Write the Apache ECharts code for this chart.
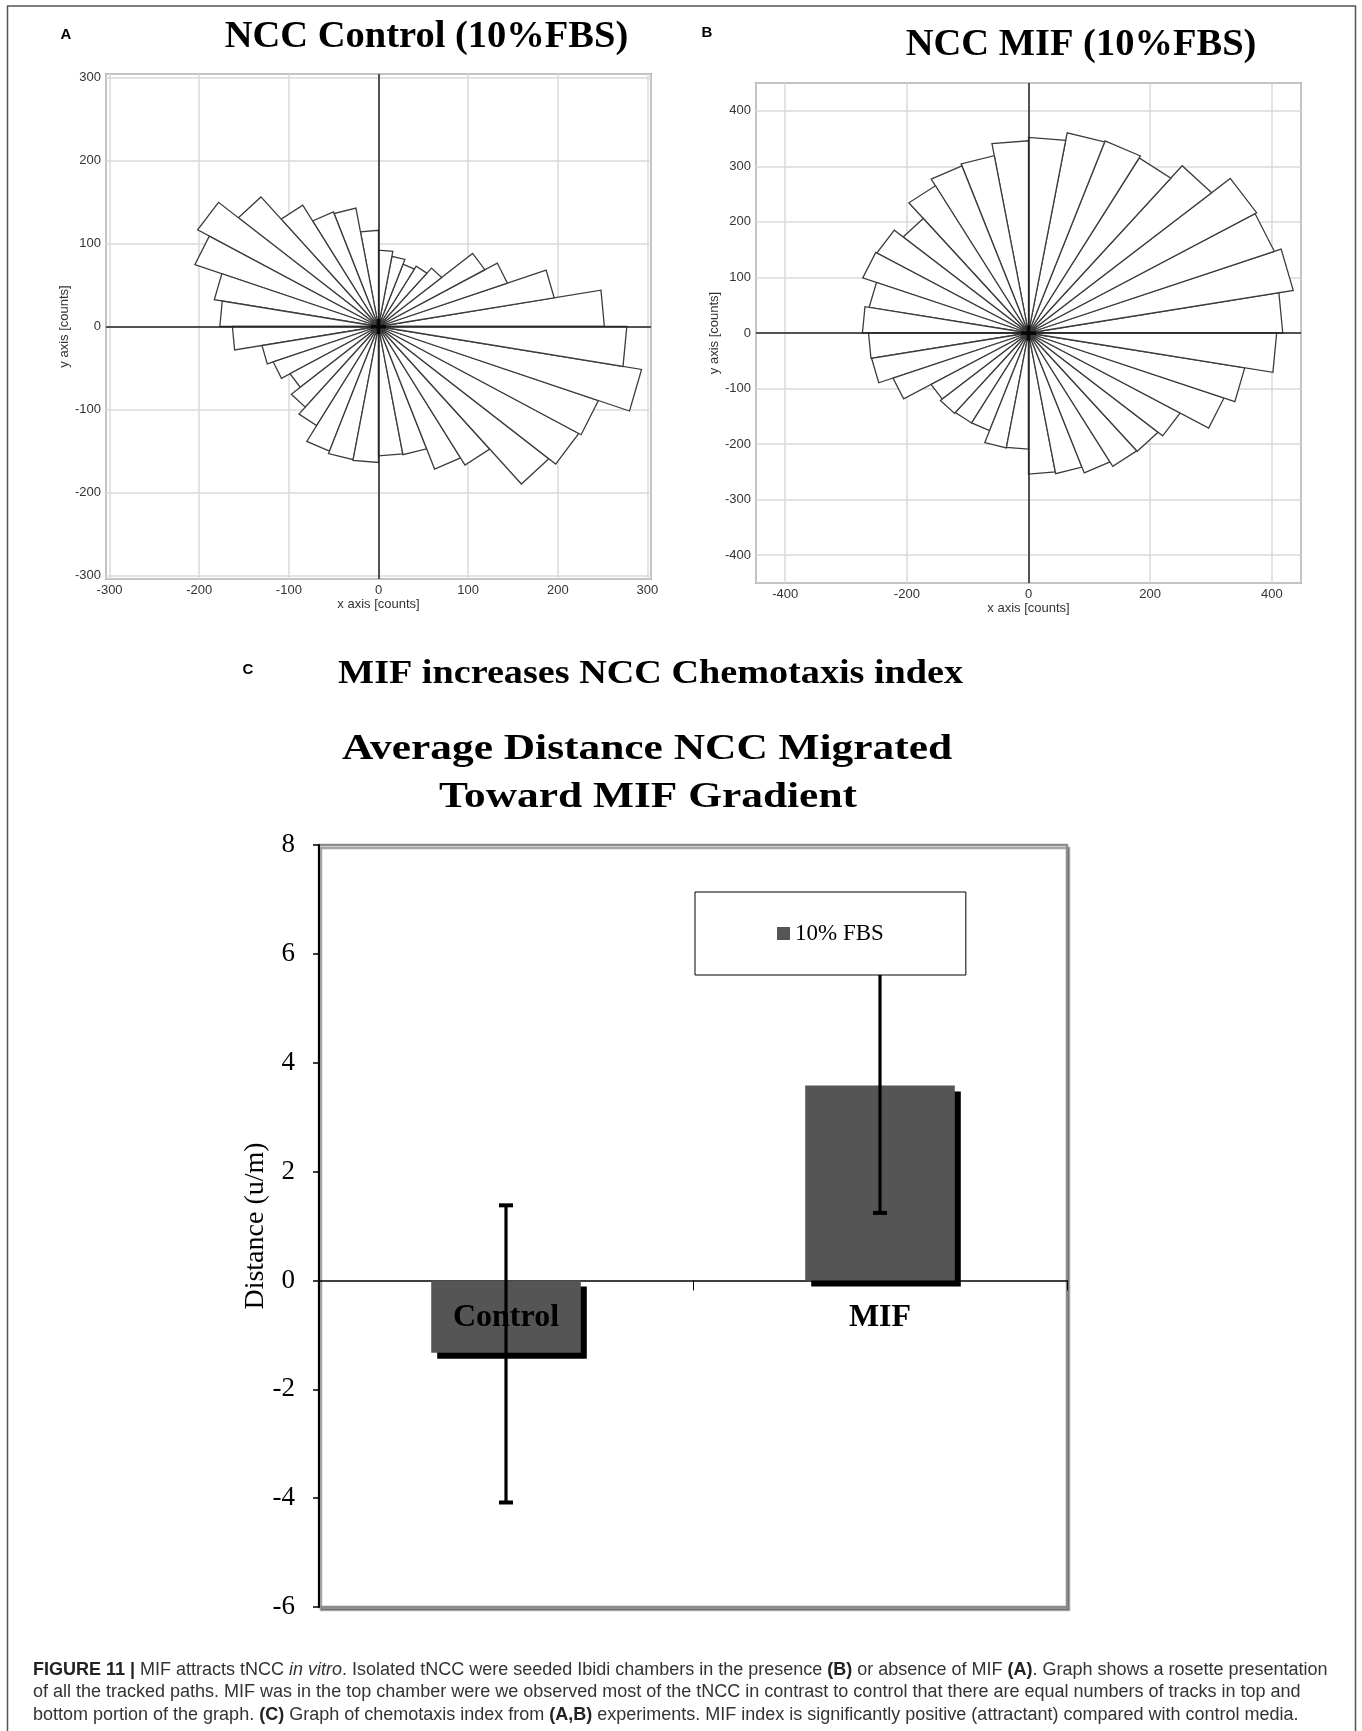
<!DOCTYPE html>
<html><head><meta charset="utf-8">
<script src="https://cdn.jsdelivr.net/npm/echarts@6/dist/echarts.min.js"></script>
<style>html,body{margin:0;padding:0;background:#fff}#c{width:1362px;height:1731px}</style>
</head><body><div id="c"></div>
<script>
// ---------- data ----------
const binDeg = 10; // each rose sector spans 10 degrees, sector i starts at i*10 deg (counter-clockwise from +x)
const roseControl = [252, 199, 153, 137, 92, 84, 80, 86, 92, 116, 145, 147, 169, 204, 233, 218, 186, 177,
                     163, 132, 125, 114, 127, 138, 160, 163, 164, 156, 157, 183, 193, 248, 258, 261, 298, 277];
const roseMIF = [418, 442, 430, 433, 393, 364, 368, 366, 352, 346, 324, 320, 306, 269, 288, 290, 266, 273,
                 263, 262, 237, 185, 189, 187, 187, 210, 209, 254, 257, 268, 277, 278, 288, 342, 361, 408];
const ticksA = [-300, -200, -100, 0, 100, 200, 300];
const ticksBX = [-400, -200, 0, 200, 400];
const ticksBY = [-400, -300, -200, -100, 0, 100, 200, 300, 400];
const originPoint = [[0, 0]];

const barCategories = ['Control', 'MIF'];
const barSeriesName = '10% FBS';
const barMeans = [-1.33, 3.58];
const errLow = [-4.08, 1.24];
const errHigh = [1.38, 5.92];

// ---------- helpers ----------
const SANS = 'Liberation Sans';
const SERIF = 'Liberation Serif';

function roseRender(params, api) {
  const i = api.value(0), r = api.value(1);
  const a0 = i * binDeg * Math.PI / 180, a1 = (i + 1) * binDeg * Math.PI / 180;
  const p0 = api.coord([0, 0]);
  const p1 = api.coord([r * Math.cos(a0), r * Math.sin(a0)]);
  const p2 = api.coord([r * Math.cos(a1), r * Math.sin(a1)]);
  return {
    type: 'polygon',
    shape: { points: [p0, p1, p2] },
    style: { fill: '#ffffff', stroke: '#3c3c3c', lineWidth: 1.3 }
  };
}

function errRender(params, api) {
  const x = api.value(0), lo = api.value(1), hi = api.value(2);
  const pLo = api.coord([x, lo]), pHi = api.coord([x, hi]);
  const cw = 7;
  const st = { stroke: '#000', lineWidth: 3.2 };
  return {
    type: 'group',
    children: [
      { type: 'line', shape: { x1: pLo[0], y1: pLo[1], x2: pHi[0], y2: pHi[1] }, style: st },
      { type: 'line', shape: { x1: pLo[0] - cw, y1: pLo[1], x2: pLo[0] + cw, y2: pLo[1] }, style: { stroke: '#000', lineWidth: 4 } },
      { type: 'line', shape: { x1: pHi[0] - cw, y1: pHi[1], x2: pHi[0] + cw, y2: pHi[1] }, style: { stroke: '#000', lineWidth: 4 } }
    ]
  };
}

// category names sit just under the zero line, as in the original chart
function catLabelRender(params, api) {
  const i = api.value(0);
  const p = api.coord([i, api.value(1)]);
  return {
    type: 'text', x: p[0], y: p[1] + 37,
    style: { text: barCategories[i], fontFamily: SERIF, fontWeight: 'bold', fontSize: 32, fill: '#000', align: 'center', verticalAlign: 'middle' }
  };
}

function roseAxis(grid, min, max, split, ticks, name, gap) {
  return {
    gridIndex: grid, type: 'value', min: min, max: max, splitNumber: split,
    axisLine: { show: false }, axisTick: { show: false },
    splitLine: { show: true, lineStyle: { color: '#dadada', width: 1.5 } },
    axisLabel: {
      fontFamily: SANS, fontSize: 13, color: '#333', margin: 5,
      formatter: function (v) { return ticks.indexOf(Math.round(v)) >= 0 && Math.abs(v - Math.round(v)) < 1e-6 ? String(Math.round(v)) : ''; }
    },
    name: name, nameLocation: 'middle', nameGap: gap,
    nameTextStyle: { fontFamily: SANS, fontSize: 13, color: '#333' }
  };
}

const zeroMarks = {
  silent: true, symbol: ['none', 'none'], label: { show: false },
  lineStyle: { color: '#222', width: 1.5, type: 'solid' },
  data: [{ xAxis: 0 }, { yAxis: 0 }], animation: false
};

const chart = echarts.init(document.getElementById('c'), null, { renderer: 'canvas' });

const option = {
  animation: false,
  backgroundColor: '#ffffff',
  grid: [
    { left: 106, top: 74, width: 545, height: 505, show: true, borderColor: '#555', borderWidth: 1.5, backgroundColor: '#fff' },
    { left: 756, top: 83, width: 545, height: 500, show: true, borderColor: '#555', borderWidth: 1.5, backgroundColor: '#fff' },
    { left: 319, top: 845, width: 748, height: 762, show: true, borderColor: '#8c8c8c', borderWidth: 2.5, backgroundColor: '#fff',
      shadowColor: 'rgba(0,0,0,0.35)', shadowOffsetX: 2, shadowOffsetY: 3, shadowBlur: 0 }
  ],
  xAxis: [
    roseAxis(0, -304, 304, 6, ticksA, 'x axis [counts]', 19),
    roseAxis(1, -448, 448, 4, ticksBX, 'x axis [counts]', 19),
    {
      gridIndex: 2, type: 'category', data: barCategories,
      axisLine: { show: true, onZero: true, lineStyle: { color: '#000', width: 1.5 } },
      axisTick: { show: true, length: 10, inside: false, lineStyle: { color: '#000', width: 1 } },
      axisLabel: { show: false },
      splitLine: { show: false }
    }
  ],
  yAxis: [
    roseAxis(0, -304.5, 304.5, 6, ticksA, 'y axis [counts]', 34),
    roseAxis(1, -450, 450, 9, ticksBY, 'y axis [counts]', 34),
    {
      gridIndex: 2, type: 'value', min: -6, max: 8, interval: 2,
      axisLine: { show: true, lineStyle: { color: '#000', width: 2 } },
      axisTick: { show: true, length: 6, inside: false, lineStyle: { color: '#000', width: 1.5 } },
      axisLabel: { fontFamily: SERIF, fontSize: 27, color: '#000', margin: 24 },
      splitLine: { show: false },
      name: 'Distance (u/m)', nameLocation: 'middle', nameGap: 49, nameMoveOverlap: false,
      nameTextStyle: { fontFamily: SERIF, fontSize: 28, color: '#000' }
    }
  ],
  legend: {
    data: [barSeriesName], left: 695, top: 892, orient: 'horizontal',
    padding: [30, 82], itemWidth: 13, itemHeight: 13, itemGap: 5,
    backgroundColor: '#fff', borderColor: '#000', borderWidth: 1, z: 10,
    icon: 'rect',
    itemStyle: { shadowBlur: 0, shadowOffsetX: 0, shadowOffsetY: 0, shadowColor: 'rgba(0,0,0,0)' },
    textStyle: { fontFamily: SERIF, fontSize: 23, color: '#000' }
  },
  series: [
    {
      type: 'custom', name: 'rose A', xAxisIndex: 0, yAxisIndex: 0, z: 3,
      renderItem: roseRender, data: roseControl.map((r, i) => [i, r]),
      markLine: zeroMarks
    },
    {
      type: 'scatter', xAxisIndex: 0, yAxisIndex: 0, z: 5, data: originPoint,
      symbol: 'path://M3,0H5V3H8V5H5V8H3V5H0V3H3Z', symbolSize: 15, itemStyle: { color: '#000' }, silent: true
    },
    {
      type: 'custom', name: 'rose B', xAxisIndex: 1, yAxisIndex: 1, z: 3,
      renderItem: roseRender, data: roseMIF.map((r, i) => [i, r]),
      markLine: zeroMarks
    },
    {
      type: 'scatter', xAxisIndex: 1, yAxisIndex: 1, z: 5, data: originPoint,
      symbol: 'path://M3,0H5V3H8V5H5V8H3V5H0V3H3Z', symbolSize: 15, itemStyle: { color: '#000' }, silent: true
    },
    {
      type: 'bar', name: barSeriesName, xAxisIndex: 2, yAxisIndex: 2, data: barMeans, barWidth: '40%', z: 2,
      itemStyle: { color: '#555555', shadowColor: '#000', shadowOffsetX: 6, shadowOffsetY: 6, shadowBlur: 0 }
    },
    {
      type: 'custom', name: 'category names', xAxisIndex: 2, yAxisIndex: 2, z: 3, silent: true,
      renderItem: catLabelRender, encode: { x: 0, y: 1 },
      data: barCategories.map((c, i) => [i, 0])
    },
    {
      type: 'custom', name: 'error', xAxisIndex: 2, yAxisIndex: 2, z: 4,
      renderItem: errRender, encode: { x: 0, y: [1, 2] },
      data: barCategories.map((c, i) => [i, errLow[i], errHigh[i]])
    }
  ],
  graphic: {
    elements: [
      { type: 'rect', z: -1, shape: { x: 7.5, y: 6, width: 1348, height: 1780 }, style: { fill: 'none', stroke: '#555', lineWidth: 1.5 } },
      { type: 'text', x: 66, y: 35, style: { text: 'A', fontFamily: SANS, fontWeight: 'bold', fontSize: 15, fill: '#000', align: 'center', verticalAlign: 'middle' } },
      { type: 'text', x: 707, y: 33, style: { text: 'B', fontFamily: SANS, fontWeight: 'bold', fontSize: 15, fill: '#000', align: 'center', verticalAlign: 'middle' } },
      { type: 'text', x: 248, y: 670, style: { text: 'C', fontFamily: SANS, fontWeight: 'bold', fontSize: 15, fill: '#000', align: 'center', verticalAlign: 'middle' } },
      { type: 'text', x: 426.5, y: 37.5, style: { text: 'NCC Control (10%FBS)', fontFamily: SERIF, fontWeight: 'bold', fontSize: 38.5, fill: '#000', align: 'center', verticalAlign: 'middle' } },
      { type: 'text', x: 1081, y: 45, style: { text: 'NCC MIF (10%FBS)', fontFamily: SERIF, fontWeight: 'bold', fontSize: 38.5, fill: '#000', align: 'center', verticalAlign: 'middle' } },
      { type: 'text', x: 650.6, y: 674, scaleX: 1.157, style: { text: 'MIF increases NCC Chemotaxis index', fontFamily: SERIF, fontWeight: 'bold', fontSize: 33, fill: '#000', align: 'center', verticalAlign: 'middle' } },
      { type: 'text', x: 647, y: 750, scaleX: 1.24, style: { text: 'Average Distance NCC Migrated', fontFamily: SERIF, fontWeight: 'bold', fontSize: 35, fill: '#000', align: 'center', verticalAlign: 'middle' } },
      { type: 'text', x: 648, y: 798, scaleX: 1.24, style: { text: 'Toward MIF Gradient', fontFamily: SERIF, fontWeight: 'bold', fontSize: 35, fill: '#000', align: 'center', verticalAlign: 'middle' } },
      { type: 'text', x: 33, y: 1670, style: {
          text: '{b|FIGURE 11 |} MIF attracts tNCC {i|in vitro}. Isolated tNCC were seeded Ibidi chambers in the presence {b|(B)} or absence of MIF {b|(A)}. Graph shows a rosette presentation',
          fontFamily: SANS, fontSize: 18, fill: '#333', align: 'left', verticalAlign: 'middle',
          rich: { b: { fontFamily: SANS, fontSize: 18, fontWeight: 'bold', fill: '#222' }, i: { fontFamily: SANS, fontSize: 18, fontStyle: 'italic', fill: '#333' } } } },
      { type: 'text', x: 33, y: 1692.5, style: {
          text: 'of all the tracked paths. MIF was in the top chamber were we observed most of the tNCC in contrast to control that there are equal numbers of tracks in top and',
          fontFamily: SANS, fontSize: 18, fill: '#333', align: 'left', verticalAlign: 'middle' } },
      { type: 'text', x: 33, y: 1715, style: {
          text: 'bottom portion of the graph. {b|(C)} Graph of chemotaxis index from {b|(A,B)} experiments. MIF index is significantly positive (attractant) compared with control media.',
          fontFamily: SANS, fontSize: 18, fill: '#333', align: 'left', verticalAlign: 'middle',
          rich: { b: { fontFamily: SANS, fontSize: 18, fontWeight: 'bold', fill: '#222' } } } }
    ]
  }
};
chart.setOption(option);
</script>
</body></html>
